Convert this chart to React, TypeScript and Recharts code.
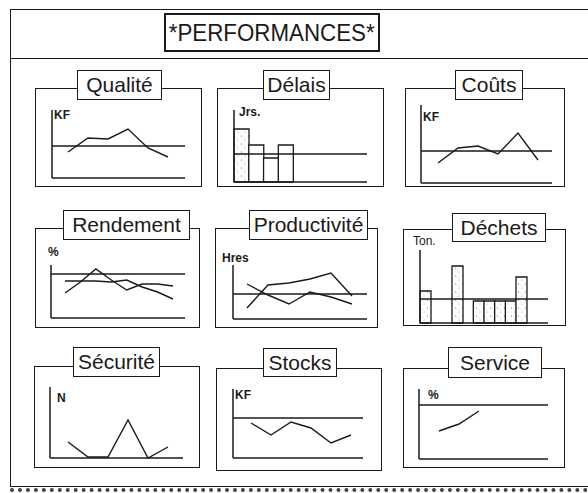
import React from 'react';
import { LineChart, Line, BarChart, Bar, Cell, XAxis, YAxis, ReferenceLine } from 'recharts';

// values, in each mini chart's own units (0 = base axis)
const periods6 = [1, 2, 3, 4, 5, 6];
const periods8 = [1, 2, 3, 4, 5, 6, 7, 8];

const qualiteKF = [26, 40, 39, 49, 30, 21];
const qualiteObjectif = 32;

const delaisJrs = [53, 37, 24, 37, null, null, null, null, null];
const delaisObjectif = 28;

const coutsKF = [20, 35, 37, 29, 50, 23];
const coutsObjectif = 32;

const rendementA = [25, 36, 49, 38, 28, 34, 34, 32];
const rendementB = [37, 37, 37, 36, 38, 31, 26, 19];
const rendementObjectif = 44;

const productiviteA = [11, 34, 36, 40, 46, 23];
const productiviteB = [35, 24, 15, 27, 22, 15];
const productiviteObjectif = 25;

const dechetsTon = [32, null, null, 57, null, 22, 22, 22, 22, 46, null, null];
const dechetsObjectif = 24;

const securiteN = [16, 1, 1, 38, 0, 11];

const stocksKF = [35, 23, 36, 30, 15, 23];
const stocksObjectif = 40;

const servicePct = [28, 35, 48, null, null, null];
const serviceObjectif = 54;

const INK = '#1a1a1a';
const FONT = '"Liberation Sans", Arial, Helvetica, sans-serif';

const rows = (periods: number[], a: (number | null)[], b?: (number | null)[]) =>
  periods.map((p, i) => ({ p, a: a[i], b: b ? b[i] : null }));

const barRows = (v: (number | null)[]) => v.map((a, i) => ({ p: i + 1, a }));

type Box = [number, number, number, number];

function Panel({ title, box, tbox, unit, unitAt, bold = true, children }: any) {
  const [x0, y0, x1, y1] = box as Box;
  const [tx0, ty0, tx1, ty1] = tbox as Box;
  return (
    <>
      <div
        style={{
          position: 'absolute', left: x0, top: y0, width: x1 - x0, height: y1 - y0,
          border: `1.5px solid ${INK}`, boxSizing: 'border-box',
        }}
      />
      {children}
      <div
        style={{
          position: 'absolute', left: tx0, top: ty0, width: tx1 - tx0, height: ty1 - ty0,
          border: `1.5px solid ${INK}`, boxSizing: 'border-box', background: '#fff',
          display: 'flex', alignItems: 'center', justifyContent: 'center',
          fontSize: 21, color: INK, whiteSpace: 'nowrap',
        }}
      >
        {title}
      </div>
      <div
        style={{
          position: 'absolute', left: unitAt[0], top: unitAt[1] - 1.6,
          fontSize: 12, lineHeight: '12px', fontWeight: bold ? 'bold' : 'normal', color: INK,
        }}
      >
        {unit}
      </div>
    </>
  );
}

function MiniLine({ plot, data, keys, max, goal, pad }: any) {
  const [l, t, r, b] = plot as Box;
  return (
    <div style={{ position: 'absolute', left: l - 1, top: t }}>
      <LineChart width={r - l + 1} height={b - t + 1} data={data} margin={{ top: 0, right: 0, bottom: 0, left: 0 }}>
        <XAxis
          dataKey="p" height={1} tick={false} tickLine={false}
          axisLine={{ stroke: INK, strokeWidth: 1.5 }} padding={{ left: pad[0], right: pad[1] }}
        />
        <YAxis width={1} domain={[0, max]} tick={false} tickLine={false} axisLine={{ stroke: INK, strokeWidth: 1.5 }} />
        {goal != null && <ReferenceLine y={goal} stroke={INK} strokeWidth={1.3} />}
        {keys.map((k: string) => (
          <Line
            key={k} dataKey={k} type="linear" stroke={INK} strokeWidth={1.4}
            dot={false} isAnimationActive={false}
          />
        ))}
      </LineChart>
    </div>
  );
}

function MiniBar({ plot, data, max, goal, id, stipple }: any) {
  const [l, t, r, b] = plot as Box;
  return (
    <div style={{ position: 'absolute', left: l - 1, top: t }}>
      <BarChart
        width={r - l + 1} height={b - t + 1} data={data} barCategoryGap={0} barGap={0}
        margin={{ top: 0, right: 0, bottom: 0, left: 0 }}
      >
        <defs>
          <pattern id={id} width="7" height="8" patternUnits="userSpaceOnUse">
            <rect width="7" height="8" fill="#fff" />
            <circle cx="1.5" cy="2" r="0.6" fill="#666" />
            <circle cx="5" cy="6" r="0.5" fill="#888" />
            <circle cx="4" cy="3.5" r="0.4" fill="#999" />
          </pattern>
        </defs>
        <XAxis dataKey="p" height={1} tick={false} tickLine={false} axisLine={{ stroke: INK, strokeWidth: 1.5 }} />
        <YAxis width={1} domain={[0, max]} tick={false} tickLine={false} axisLine={{ stroke: INK, strokeWidth: 1.5 }} />
        <ReferenceLine y={goal} stroke={INK} strokeWidth={1.3} />
        <Bar dataKey="a" stroke={INK} strokeWidth={1.3} isAnimationActive={false}>
          {data.map((d: any, i: number) => (
            <Cell key={i} fill={stipple(i) ? `url(#${id})` : '#fff'} />
          ))}
        </Bar>
      </BarChart>
    </div>
  );
}

export default function App() {
  return (
    <div
      style={{
        position: 'absolute', left: 0, top: 0, width: 588, height: 493,
        background: '#fff', fontFamily: FONT, overflow: 'hidden',
      }}
    >
      {/* outer frame */}
      <div style={{ position: 'absolute', left: 10, top: 9, width: 578, height: 476, borderLeft: `1.5px solid ${INK}`, borderTop: `1.5px solid ${INK}`, borderBottom: `1.2px solid ${INK}` }} />
      <div style={{ position: 'absolute', left: 10, top: 58, width: 578, borderTop: `1.5px solid ${INK}` }} />
      <div style={{ position: 'absolute', left: 10, top: 488, width: 578, borderTop: '4px dotted #444' }} />
      <div
        style={{
          position: 'absolute', left: 164, top: 13, width: 216, height: 39,
          border: `2px solid ${INK}`, boxSizing: 'border-box',
          display: 'flex', alignItems: 'center', justifyContent: 'center',
        }}
      >
        <span style={{ fontSize: 24, color: INK, display: 'inline-block', transform: 'scaleX(0.93)', whiteSpace: 'nowrap' }}>
          *PERFORMANCES*
        </span>
      </div>

      <Panel title="Qualité" box={[35, 88, 202, 187]} tbox={[77, 70, 162, 100]} unit="KF" unitAt={[54, 111]}>
        <MiniLine plot={[52, 110, 185, 178]} data={rows(periods6, qualiteKF)} keys={['a']} max={68} goal={qualiteObjectif} pad={[16, 17]} />
      </Panel>

      <Panel title="Délais" box={[217, 88, 384, 187]} tbox={[263, 70, 330, 100]} unit="Jrs." unitAt={[239, 108]}>
        <MiniBar plot={[234, 110, 367, 182]} data={barRows(delaisJrs)} max={72} goal={delaisObjectif} id="stip-delais" stipple={(i: number) => i === 0} />
      </Panel>

      <Panel title="Coûts" box={[405, 88, 565, 187]} tbox={[455, 70, 523, 100]} unit="KF" unitAt={[423, 113]}>
        <MiniLine plot={[421, 105, 552, 183]} data={rows(periods6, coutsKF)} keys={['a']} max={78} goal={coutsObjectif} pad={[17, 14]} />
      </Panel>

      <Panel title="Rendement" box={[35, 228, 200, 328]} tbox={[63, 210, 190, 240]} unit="%" unitAt={[48, 248]}>
        <MiniLine plot={[51, 265, 185, 318]} data={rows(periods8, rendementA, rendementB)} keys={['a', 'b']} max={53} goal={rendementObjectif} pad={[14, 12]} />
      </Panel>

      <Panel title="Productivité" box={[215, 228, 378, 328]} tbox={[249, 210, 368, 240]} unit="Hres" unitAt={[222, 254]}>
        <MiniLine plot={[233, 265, 367, 319]} data={rows(periods6, productiviteA, productiviteB)} keys={['a', 'b']} max={54} goal={productiviteObjectif} pad={[14, 15]} />
      </Panel>

      <Panel title="Déchets" box={[403, 229, 566, 326]} tbox={[452, 213, 546, 242]} unit="Ton." unitAt={[413, 237]} bold={false}>
        <MiniBar plot={[420, 250, 548, 323]} data={barRows(dechetsTon)} max={73} goal={dechetsObjectif} id="stip-dechets" stipple={() => true} />
      </Panel>

      <Panel title="Sécurité" box={[34, 366, 200, 468]} tbox={[73, 347, 160, 377]} unit="N" unitAt={[57, 394]}>
        <MiniLine plot={[50, 387, 183, 458]} data={rows(periods6, securiteN)} keys={['a']} max={71} goal={null} pad={[18, 15]} />
      </Panel>

      <Panel title="Stocks" box={[216, 368, 382, 471]} tbox={[263, 348, 337, 377]} unit="KF" unitAt={[235, 391]}>
        <MiniLine plot={[233, 389, 363, 458]} data={rows(periods6, stocksKF)} keys={['a']} max={69} goal={stocksObjectif} pad={[18, 12]} />
      </Panel>

      <Panel title="Service" box={[403, 368, 565, 468]} tbox={[448, 347, 542, 378]} unit="%" unitAt={[428, 391]}>
        <MiniLine plot={[419, 389, 548, 459]} data={rows(periods6, servicePct)} keys={['a']} max={70} goal={serviceObjectif} pad={[20, 9]} />
      </Panel>
    </div>
  );
}
